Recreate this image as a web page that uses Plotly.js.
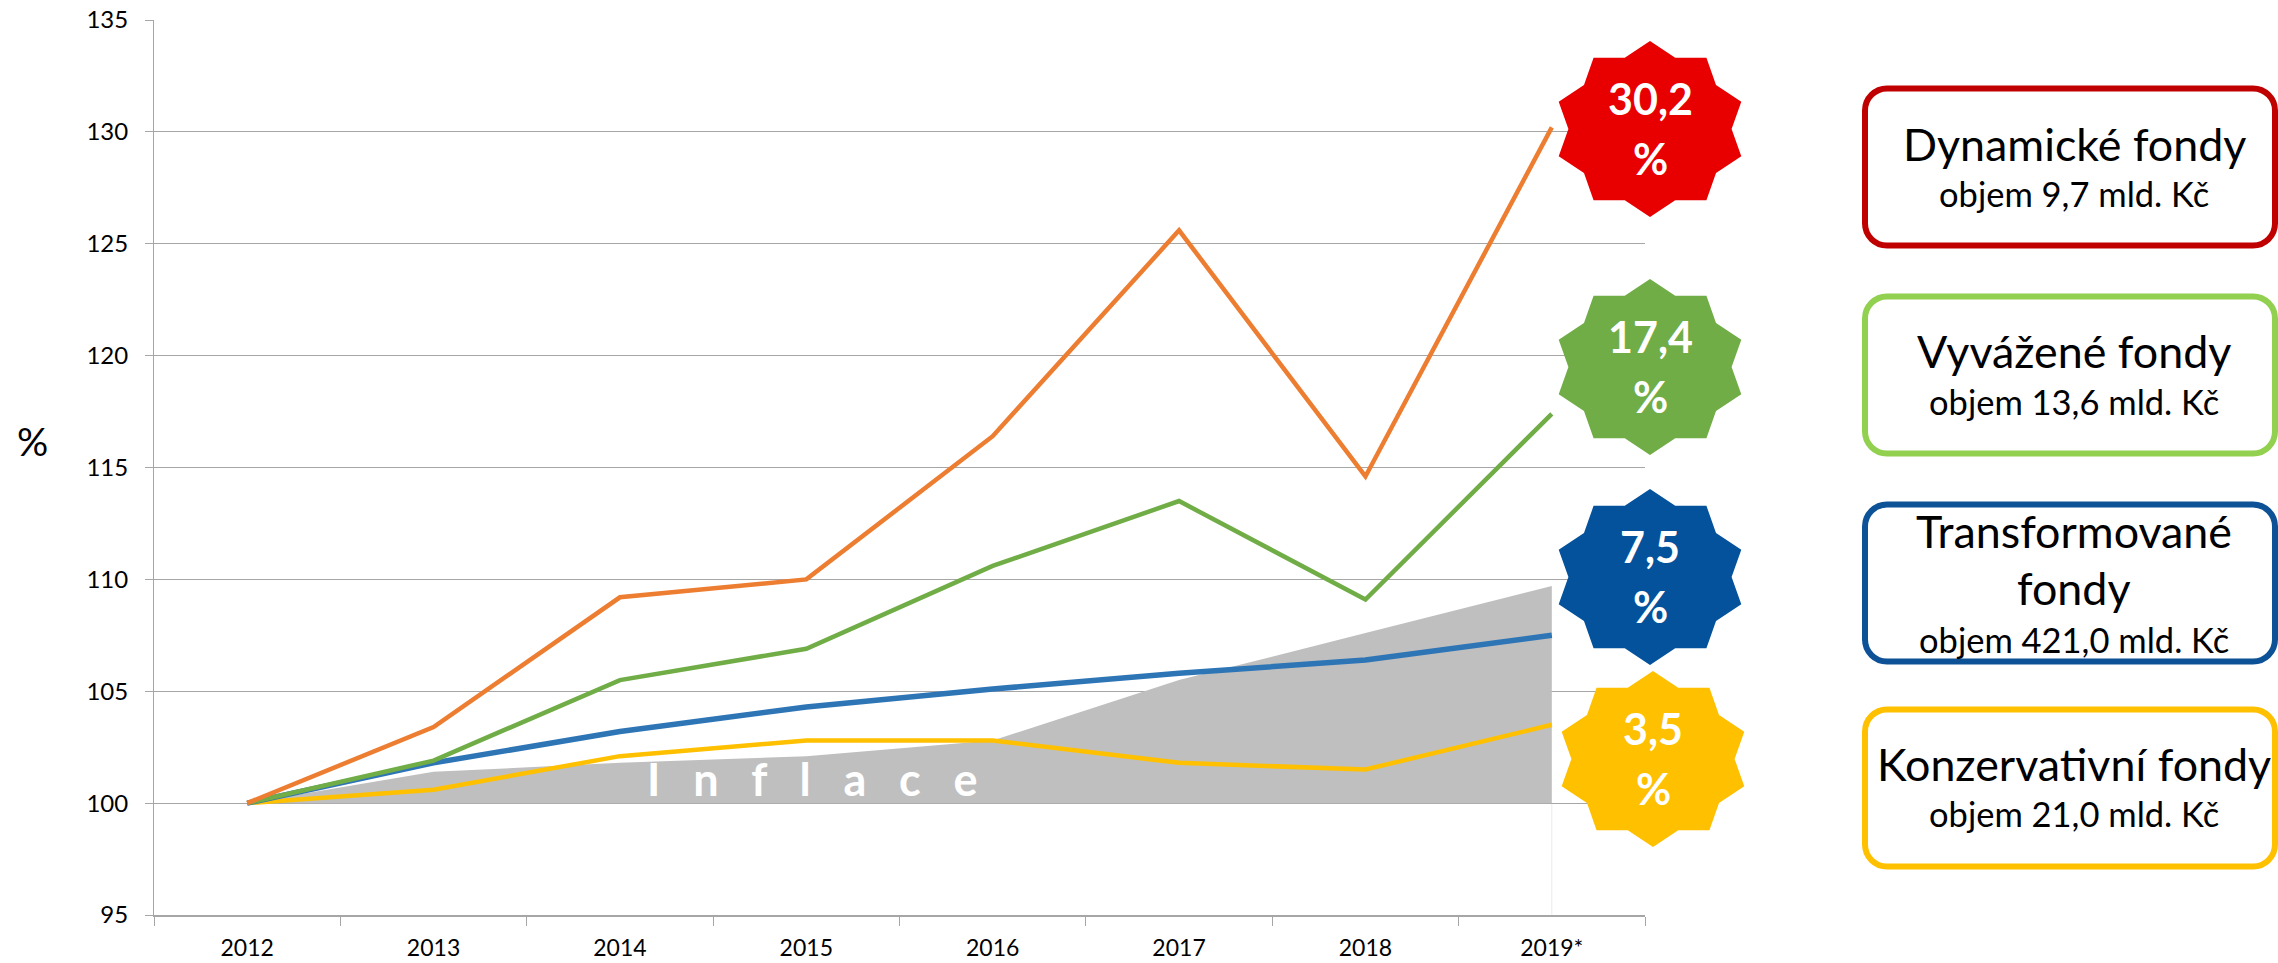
<!DOCTYPE html>
<html>
<head>
<meta charset="utf-8">
<script src="https://cdn.plot.ly/plotly-3.0.1.min.js"></script>
<style>
  html, body { margin: 0; padding: 0; background: #ffffff; }
  #chart { width: 2278px; height: 963px; }
</style>
</head>
<body>
<div id="chart"></div>
<script>
// ---------------- DATA ----------------
const categories = ['2012', '2013', '2014', '2015', '2016', '2017', '2018', '2019*'];
const dynamicke      = [100, 103.4, 109.2, 110.0, 116.4, 125.6, 114.6, 130.2];
const vyvazene       = [100, 101.9, 105.5, 106.9, 110.6, 113.5, 109.1, 117.4];
const transformovane = [100, 101.8, 103.2, 104.3, 105.1, 105.8, 106.4, 107.5];
const konzervativni  = [100, 100.6, 102.1, 102.8, 102.8, 101.8, 101.5, 103.5];
const inflace        = [100, 101.4, 101.8, 102.1, 102.8, 105.5, 107.6, 109.7];
const indexBase      = [100, 100, 100, 100, 100, 100, 100, 100];
const yTickValues    = [95, 100, 105, 110, 115, 120, 125, 130, 135];
const yTickLabels    = ['95', '100', '105', '110', '115', '120', '125', '130', '135'];
const fundTitles     = [['Dynamické fondy'], ['Vyvážené fondy'], ['Transformované', 'fondy'], ['Konzervativní fondy']];
const fundVolumes    = ['objem 9,7 mld. Kč', 'objem 13,6 mld. Kč', 'objem 421,0 mld. Kč', 'objem 21,0 mld. Kč'];
const inflaceLetters = ['I', 'n', 'f', 'l', 'a', 'c', 'e'];
const yAxisLabel     = '%';

// ---------------- STYLE / LAYOUT ----------------
const W = 2278, H = 963;
const M = { l: 154, r: 633, t: 20, b: 48 };
const PW = W - M.l - M.r, PH = H - M.t - M.b;
const px2x = px => (px - M.l) / PW;
const py2y = py => (H - M.b - py) / PH;

const FONT = 'Lato, "Open Sans", "DejaVu Sans", sans-serif';
const seriesDefs = [
  { y: konzervativni,  name: 'Konzervativní fondy', color: '#ffc000', width: 4.5 },
  { y: transformovane, name: 'Transformované fondy', color: '#2e75b6', width: 5.5 },
  { y: vyvazene,       name: 'Vyvážené fondy',       color: '#70ad47', width: 4.5 },
  { y: dynamicke,      name: 'Dynamické fondy',      color: '#ed7d31', width: 4.5 }
];

const traces = [
  { x: categories, y: indexBase, type: 'scatter', mode: 'lines', line: { width: 0, color: 'rgba(0,0,0,0)' }, showlegend: false, hoverinfo: 'skip' },
  { x: categories, y: inflace, type: 'scatter', mode: 'lines', fill: 'tonexty', fillcolor: '#bfbfbf', line: { width: 0, color: '#bfbfbf' }, name: 'Inflace', showlegend: false }
];
seriesDefs.forEach(s => traces.push({
  x: categories, y: s.y, type: 'scatter', mode: 'lines', name: s.name,
  line: { color: s.color, width: s.width }, showlegend: false
}));

// Stars (badges) and boxes
const badgeColors = ['#e80000', '#70ad47', '#03529b', '#ffc000'];
const badgeValues = [dynamicke, vyvazene, transformovane, konzervativni].map(a => a[a.length - 1] - 100);
const badgeCenters = [[1650, 129], [1650, 367], [1650, 577], [1653, 759]];
const boxColors = ['#c00000', '#92d050', '#0d5196', '#ffc000'];
const boxCentersY = [167, 375, 583, 788];

function starPath(rx, ry, inner, n) {
  let d = '';
  for (let i = 0; i < 2 * n; i++) {
    const ang = Math.PI / 2 - i * Math.PI / n;
    const f = (i % 2 === 0) ? 1 : inner;
    const x = rx * f * Math.cos(ang), y = ry * f * Math.sin(ang);
    d += (i === 0 ? 'M' : 'L') + x.toFixed(2) + ',' + y.toFixed(2) + ' ';
  }
  return d + 'Z';
}
function roundRectPath(w, h, r) {
  const a = w / 2, b = h / 2, k = 0.5523 * r;
  return `M${-a + r},${-b} L${a - r},${-b} C${a - r + k},${-b} ${a},${-b + r - k} ${a},${-b + r} ` +
         `L${a},${b - r} C${a},${b - r + k} ${a - r + k},${b} ${a - r},${b} ` +
         `L${-a + r},${b} C${-a + r - k},${b} ${-a},${b - r + k} ${-a},${b - r} ` +
         `L${-a},${-b + r} C${-a},${-b + r - k} ${-a + r - k},${-b} ${-a + r},${-b} Z`;
}

const shapes = [];
const annotations = [];

// faint drop lines at first and last category
[categories[0], categories[categories.length - 1]].forEach(c => shapes.push({
  type: 'line', xref: 'x', yref: 'y', x0: c, x1: c, y0: yTickValues[0], y1: indexBase[0],
  line: { color: '#ececec', width: 1 }, layer: 'below'
}));

badgeCenters.forEach((c, i) => {
  shapes.push({
    type: 'path', xref: 'paper', yref: 'paper', xsizemode: 'pixel', ysizemode: 'pixel',
    xanchor: px2x(c[0]), yanchor: py2y(c[1]),
    path: starPath(96, 88, 0.85, 10), fillcolor: badgeColors[i], line: { width: 0 }, layer: 'above'
  });
  const fs = 43;
  annotations.push({
    xref: 'paper', yref: 'paper', x: px2x(c[0]), y: py2y(c[1] - 14 - 0.387 * fs),
    text: '<b>' + badgeValues[i].toFixed(1).replace('.', ',') + '</b>', showarrow: false,
    font: { family: FONT, size: fs, color: '#ffffff' }, xanchor: 'center', yanchor: 'middle'
  });
  annotations.push({
    xref: 'paper', yref: 'paper', x: px2x(c[0]), y: py2y(c[1] + 46 - 0.387 * fs),
    text: '<b>%</b>', showarrow: false,
    font: { family: FONT, size: fs, color: '#ffffff' }, xanchor: 'center', yanchor: 'middle'
  });
});

const boxLeft = 1865, boxRight = 2275, boxH = 157;
boxCentersY.forEach((cy, i) => {
  shapes.push({
    type: 'path', xref: 'paper', yref: 'paper', xsizemode: 'pixel', ysizemode: 'pixel',
    xanchor: px2x((boxLeft + boxRight) / 2), yanchor: py2y(cy),
    path: roundRectPath(boxRight - boxLeft, boxH, 22), fillcolor: 'rgba(255,255,255,0)',
    line: { color: boxColors[i], width: 6 }, layer: 'above'
  });
});
// box texts: baselines
const titleFs = 44.8, volFs = 34.5, textX = 2074;
const titleBaselines = [[161.7], [368.3], [548.3, 605], [781.7]];
const volBaselines = [206.7, 415, 652.7, 826.7];
fundTitles.forEach((lines, i) => {
  lines.forEach((t, j) => annotations.push({
    xref: 'paper', yref: 'paper', x: px2x(textX), y: py2y(titleBaselines[i][j] - 0.387 * titleFs),
    text: t, showarrow: false, font: { family: FONT, size: titleFs, color: '#000000' },
    xanchor: 'center', yanchor: 'middle'
  }));
  annotations.push({
    xref: 'paper', yref: 'paper', x: px2x(textX), y: py2y(volBaselines[i] - 0.387 * volFs),
    text: fundVolumes[i], showarrow: false, font: { family: FONT, size: volFs, color: '#000000' },
    xanchor: 'center', yanchor: 'middle'
  });
});

// Inflace label (letter-spaced)
const inflFs = 45;
annotations.push({
  xref: 'paper', yref: 'paper', x: px2x(812), y: py2y(796 - 0.387 * inflFs),
  text: '<b>' + inflaceLetters.join('&nbsp;&nbsp;&nbsp;') + '</b>', showarrow: false,
  font: { family: FONT, size: inflFs, color: '#ffffff' }, xanchor: 'center', yanchor: 'middle'
});
// y axis label
annotations.push({
  xref: 'paper', yref: 'paper', x: px2x(32), y: py2y(441),
  text: yAxisLabel, showarrow: false,
  font: { family: FONT, size: 39, color: '#000000' }, xanchor: 'center', yanchor: 'middle'
});

const layout = {
  width: W, height: H,
  margin: M,
  paper_bgcolor: '#ffffff', plot_bgcolor: '#ffffff',
  showlegend: false, hovermode: false,
  xaxis: {
    type: 'category', categoryorder: 'array', categoryarray: categories,
    range: [-0.5, categories.length - 0.5],
    showline: true, linecolor: '#a6a6a6', linewidth: 1.5,
    ticks: 'outside', tickson: 'boundaries', ticklen: 9, tickcolor: '#a6a6a6', tickwidth: 1,
    showgrid: false, zeroline: false,
    tickfont: { family: FONT, size: 23, color: '#000000' }, ticklabelstandoff: 12
  },
  yaxis: {
    range: [yTickValues[0], yTickValues[yTickValues.length - 1]],
    tickmode: 'array', tickvals: yTickValues, ticktext: yTickLabels,
    showline: true, linecolor: '#a6a6a6', linewidth: 1,
    ticks: 'outside', ticklen: 8, tickcolor: '#a6a6a6',
    showgrid: true, gridcolor: '#a6a6a6', gridwidth: 1, zeroline: false,
    tickfont: { family: FONT, size: 24, color: '#000000' }, ticklabelstandoff: 12
  },
  shapes: shapes,
  annotations: annotations
};

Plotly.newPlot('chart', traces, layout, { staticPlot: true, displayModeBar: false });
</script>
</body>
</html>
